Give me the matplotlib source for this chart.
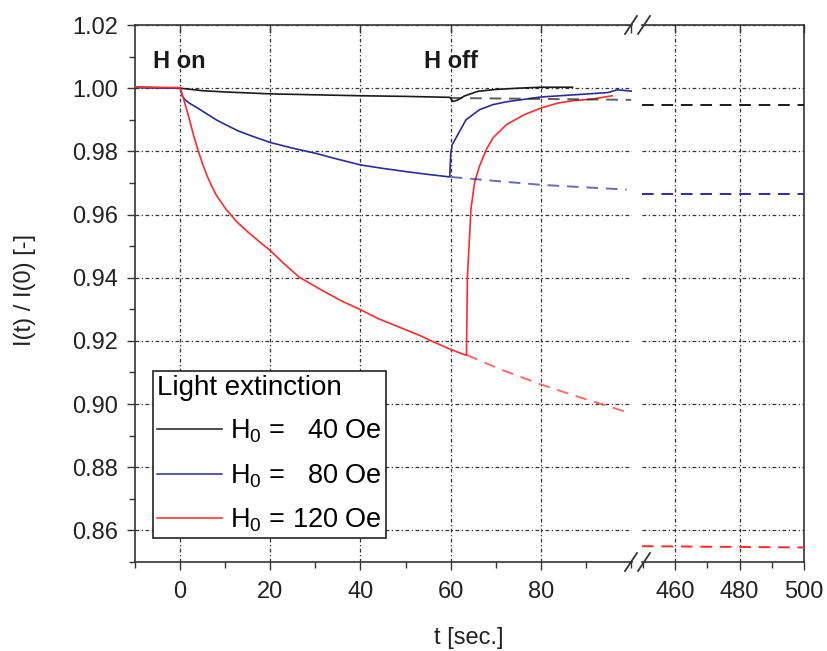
import numpy as np
import matplotlib
matplotlib.use("Agg")
import matplotlib.pyplot as plt
from matplotlib.lines import Line2D
from matplotlib.ticker import MultipleLocator, FixedLocator

plt.rcParams["font.family"] = ["Liberation Sans", "DejaVu Sans"]
plt.rcParams["mathtext.default"] = "regular"

t_40 = [-10, 0, 5, 10, 20, 30, 40, 50, 59.8, 60.5, 61.5, 63, 66, 70, 75, 80, 87]
y_40 = [1.0003, 1.0000, 0.9992, 0.9988, 0.9982, 0.9979, 0.9976, 0.9974, 0.9971,
        0.9958, 0.9962, 0.9975, 0.9990, 0.9996, 1.0000, 1.0003, 1.0003]

t_80 = [-10, 0, 0.5, 1, 2, 4, 6, 8, 10, 13, 16, 20, 25, 30, 35, 40, 45, 50, 55, 59.8,
        60, 60.3, 62, 63.4, 66.4, 69.4, 72.4, 80, 87.4, 94.8, 97, 100.5]
y_80 = [1.0002, 1.0000, 0.9974, 0.9965, 0.9953, 0.9936, 0.9918, 0.9900, 0.9885,
        0.9864, 0.9848, 0.9828, 0.9810, 0.9794, 0.9775, 0.9757, 0.9746, 0.9736,
        0.9727, 0.9719, 0.9790, 0.9820, 0.9864, 0.9900, 0.9932, 0.9948, 0.9957,
        0.9972, 0.9979, 0.9986, 0.9995, 0.9990]

t_120 = [-10, 0, 0.5, 1, 2, 3, 4, 5, 6, 7, 8, 10, 12.5, 15, 17.5, 20, 23, 26.4, 30,
         33, 36, 39.8, 44, 48.7, 53, 56, 59.8, 63.5, 63.7, 64.5, 65.3, 66.4, 67.9,
         69.4, 72.4, 76.3, 80, 83.8, 87.4, 91.2, 95.8]
y_120 = [1.0003, 1.0002, 0.9979, 0.9955, 0.9905, 0.9850, 0.9802, 0.9760, 0.9722,
         0.9690, 0.9662, 0.9620, 0.9578, 0.9545, 0.9515, 0.9486, 0.9445, 0.9402,
         0.9372, 0.9348, 0.9325, 0.9300, 0.9270, 0.9243, 0.9218, 0.9198, 0.9174,
         0.9154, 0.9400, 0.9618, 0.9702, 0.9754, 0.9806, 0.9843, 0.9885, 0.9916,
         0.9937, 0.9953, 0.9961, 0.9965, 0.9976]

# extrapolated (dashed) curves
tx_40 = [60, 100]
yx_40 = [0.9969, 0.9963]
tx_80 = [60, 71, 80, 90, 99]
yx_80 = [0.9719, 0.9705, 0.9694, 0.9686, 0.9679]
tx_120 = [63.5, 71, 80, 90, 94.8, 99.8]
yx_120 = [0.9156, 0.9110, 0.9062, 0.9015, 0.8994, 0.8971]

# long-time values (right part of the broken axis)
tl = [449.7, 500]
yl_40 = [0.9948, 0.9948]
yl_80 = [0.9665, 0.9665]
yl_120 = [0.8550, 0.8546]

labels = ["H$_0$ =   40 Oe", "H$_0$ =   80 Oe", "H$_0$ = 120 Oe"]
colors = ["#1a1a1a", "#2b2b9c", "#ff2a2a"]

W, H = 827, 651
fig = plt.figure(figsize=(W / 100, H / 100), dpi=100)
ax1 = fig.add_axes([135 / W, 1 - 562 / H, (632 - 135) / W, (562 - 25) / H])
ax2 = fig.add_axes([642 / W, 1 - 562 / H, (804 - 642) / W, (562 - 25) / H])

grid_kw = dict(color="#333333", lw=0.9, ls=(0, (3, 2, 1, 2)))
dash = (0, (6, 4))
spine_c = "#333333"

for t, y, c in zip([t_40, t_80, t_120], [y_40, y_80, y_120], colors):
    ax1.plot(t, y, color=c, lw=1.2, zorder=3)
for t, y, c in zip([tx_40, tx_80, tx_120], [yx_40, yx_80, yx_120], colors):
    ax1.plot(t, y, color=c, lw=1.4, ls=dash, alpha=0.7, zorder=3)
for y, c in zip([yl_40, yl_80, yl_120], colors):
    ax2.plot(tl, y, color=c, lw=1.4, ls=dash, zorder=3)

ax1.set_xlim(-10, 100.2)
ax2.set_xlim(449.7, 500)
for ax in (ax1, ax2):
    ax.set_ylim(0.85, 1.02)
    ax.grid(True, which="major", **grid_kw)
    ax.xaxis.set_minor_locator(MultipleLocator(10))
    ax.tick_params(axis="x", which="major", direction="out", length=6, width=1,
                   labelsize=17, colors=spine_c, labelcolor="#222222", pad=8)
    ax.tick_params(axis="x", which="minor", direction="out", length=4, width=1, colors=spine_c)
    for s in ax.spines.values():
        s.set_color(spine_c)
        s.set_linewidth(1.2)
    top = ax.secondary_xaxis("top")
    top.tick_params(which="major", direction="in", length=6, width=1, colors=spine_c,
                    labeltop=False)
    top.tick_params(which="minor", direction="in", length=4, width=1, colors=spine_c)
    top.spines["top"].set_visible(False)

ax1.xaxis.set_major_locator(FixedLocator([0, 20, 40, 60, 80]))
ax2.xaxis.set_major_locator(FixedLocator([460, 480, 500]))
ax1.spines["right"].set_visible(False)
ax2.spines["left"].set_visible(False)
ax2.tick_params(axis="y", which="both", left=False, right=False, labelleft=False)

ax1.yaxis.set_major_locator(MultipleLocator(0.02))
ax1.yaxis.set_minor_locator(MultipleLocator(0.01))
ax1.yaxis.set_major_formatter(matplotlib.ticker.FormatStrFormatter("%.2f"))
ax1.tick_params(axis="y", which="major", direction="out", length=6, width=1,
                labelsize=17, colors=spine_c, labelcolor="#222222", pad=6)
ax1.tick_params(axis="y", which="minor", direction="out", length=4, width=1, colors=spine_c)

# annotations
ax1.text(-6, 1.0085, "H on", fontsize=17, fontweight="bold", va="center", color="#1a1a1a")
ax1.text(54, 1.0085, "H off", fontsize=17, fontweight="bold", va="center", color="#1a1a1a")

# axis labels
fig.text(469 / W, 1 - 638 / H, "t [sec.]", fontsize=17, ha="center", va="center", color="#222222")
fig.text(25 / W, 1 - 290 / H, "I(t) / I(0) [-]", fontsize=17, ha="center", va="center",
         rotation=90, color="#222222")

# legend
handles = [Line2D([0], [0], color=c, lw=1.1) for c in colors]
leg = fig.legend(handles, labels, title="Light extinction", loc="upper left",
                 bbox_to_anchor=(153 / W, 1 - 371 / H), fontsize=19.5, title_fontsize=20,
                 alignment="left", fancybox=False, framealpha=1, edgecolor="#222222",
                 borderpad=0.15, handlelength=2.4, handletextpad=0.3, labelspacing=0.62,
                 borderaxespad=0)
leg.get_frame().set_linewidth(1.2)

# axis break marks
for yc in (25, 562):
    for x0 in (625, 638):
        fig.add_artist(Line2D([x0 / W, (x0 + 12) / W], [1 - (yc + 9) / H, 1 - (yc - 9) / H],
                              color=spine_c, lw=1.3))

fig.savefig("out.png", dpi=100)
